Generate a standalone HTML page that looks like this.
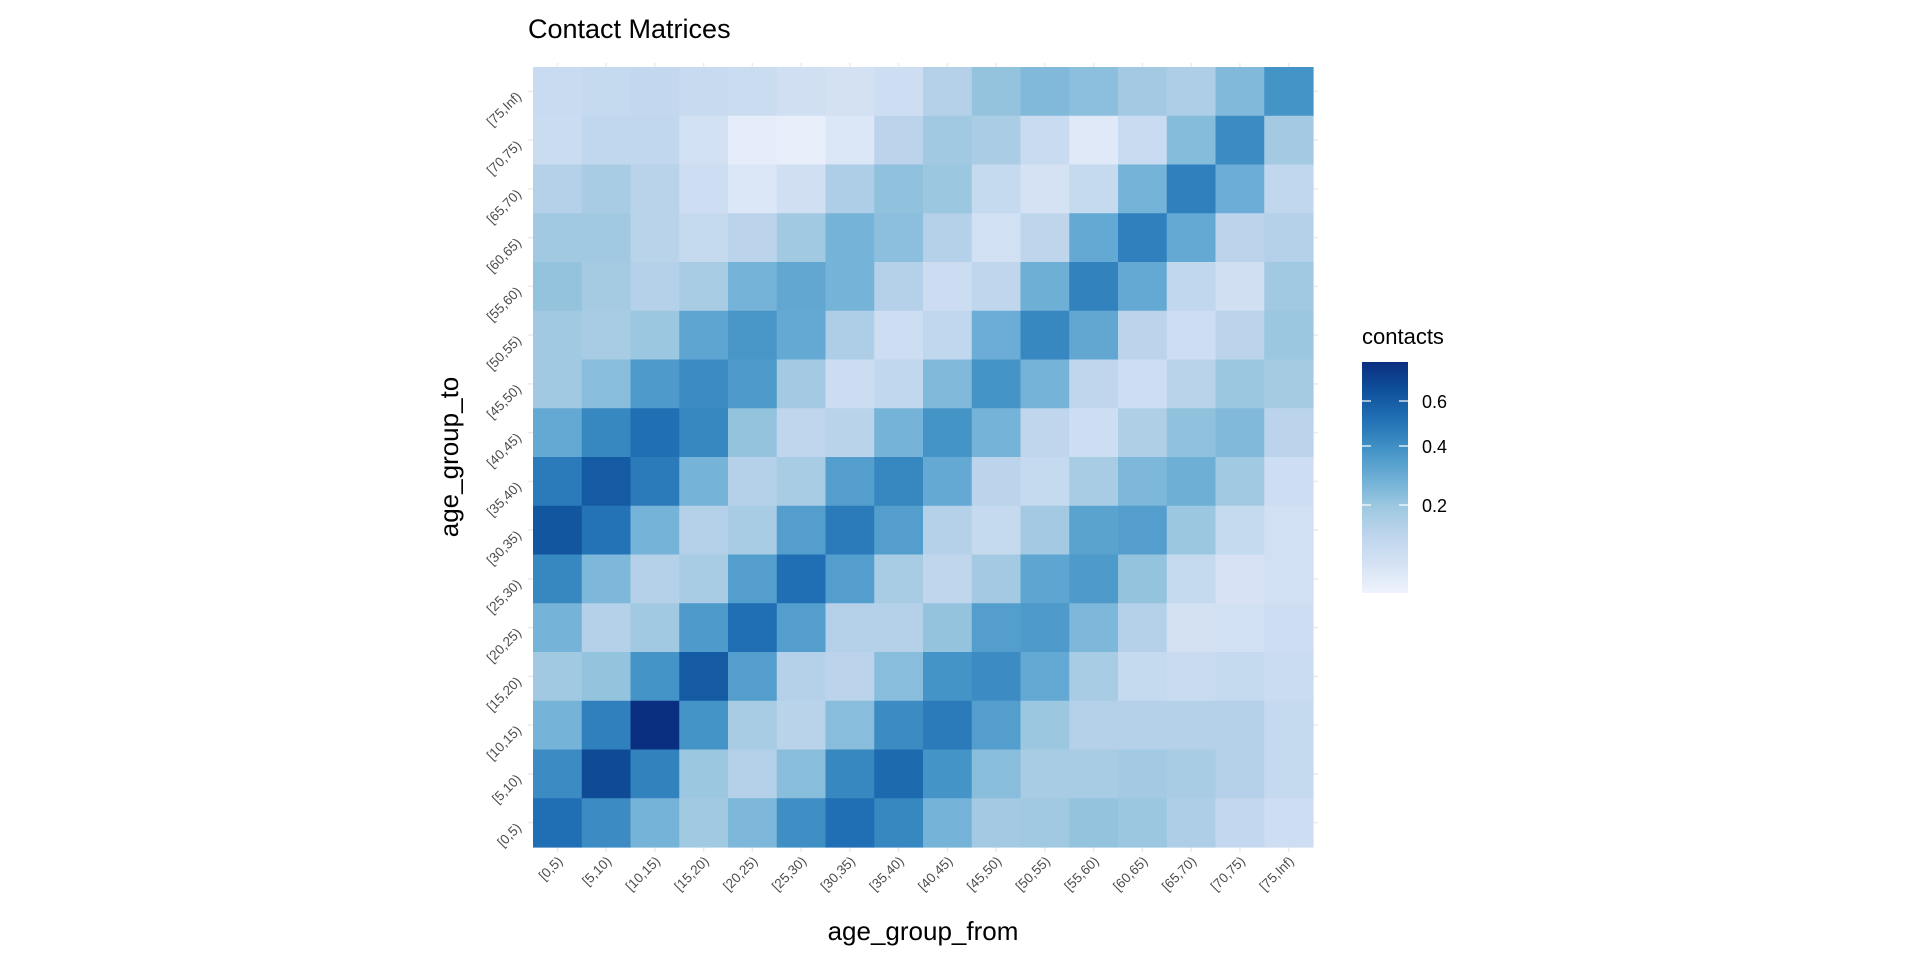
<!DOCTYPE html>
<html><head><meta charset="utf-8"><style>
html,body{margin:0;padding:0;background:#fff;}
svg{display:block;font-family:"Liberation Sans",Arial,sans-serif;}
</style></head><body>
<svg id="s" width="1920" height="960" xmlns="http://www.w3.org/2000/svg">
<defs><linearGradient id="g" x1="0" y1="1" x2="0" y2="0">
<stop offset="0" stop-color="#eef3fd"/><stop offset="0.125" stop-color="#d5e2f4"/>
<stop offset="0.25" stop-color="#bdd5ec"/><stop offset="0.375" stop-color="#9dc8e0"/>
<stop offset="0.5" stop-color="#6caed6"/><stop offset="0.625" stop-color="#4292c6"/>
<stop offset="0.75" stop-color="#2171b5"/><stop offset="0.875" stop-color="#0f519c"/>
<stop offset="1" stop-color="#0b2f80"/></linearGradient></defs>
<text x="528" y="38" font-size="27" fill="#000">Contact Matrices</text>
<g id="grid"></g>
<text transform="translate(458,457) rotate(-90)" text-anchor="middle" font-size="26" fill="#000">age_group_to</text>
<text x="923" y="940" text-anchor="middle" font-size="26" fill="#000">age_group_from</text>
<text x="1362" y="344" font-size="22" fill="#000">contacts</text>
<rect x="1362" y="362" width="46" height="231" fill="url(#g)"/>
<g stroke="#fff" stroke-width="1.2">
<line x1="1362" y1="401" x2="1371" y2="401"/><line x1="1399" y1="401" x2="1408" y2="401"/>
<line x1="1362" y1="446" x2="1371" y2="446"/><line x1="1399" y1="446" x2="1408" y2="446"/>
<line x1="1362" y1="505" x2="1371" y2="505"/><line x1="1399" y1="505" x2="1408" y2="505"/>
</g>
<g font-size="18" fill="#000">
<text x="1422" y="408">0.6</text><text x="1422" y="453">0.4</text><text x="1422" y="512">0.2</text>
</g>
</svg>
<script>
var L=[
[.2,.22,.23,.21,.19,.16,.14,.17,.3,.42,.47,.44,.37,.33,.47,.65],
[.19,.24,.24,.15,.05,.03,.1,.27,.38,.34,.2,.08,.2,.46,.68,.37],
[.3,.35,.28,.17,.1,.16,.33,.43,.4,.22,.13,.22,.5,.73,.53,.24],
[.38,.38,.28,.22,.27,.38,.5,.44,.3,.15,.26,.55,.73,.55,.27,.3],
[.42,.36,.3,.35,.5,.56,.5,.3,.18,.25,.52,.72,.55,.24,.16,.38],
[.38,.35,.4,.57,.64,.55,.33,.17,.24,.53,.7,.56,.27,.17,.27,.4],
[.38,.45,.62,.68,.62,.37,.18,.24,.47,.65,.5,.25,.17,.28,.4,.36],
[.55,.7,.8,.7,.42,.25,.28,.5,.65,.5,.25,.17,.32,.43,.47,.27],
[.75,.88,.75,.5,.3,.35,.6,.7,.55,.27,.22,.35,.48,.52,.38,.17],
[.9,.78,.5,.3,.35,.6,.75,.6,.3,.22,.37,.58,.6,.4,.22,.15],
[.7,.48,.3,.35,.6,.8,.6,.35,.25,.37,.57,.62,.42,.22,.12,.15],
[.5,.3,.38,.62,.8,.6,.3,.3,.42,.6,.62,.48,.3,.14,.15,.17],
[.38,.42,.65,.88,.6,.3,.27,.45,.65,.68,.55,.35,.22,.2,.22,.19],
[.5,.73,1.0,.65,.35,.28,.45,.68,.75,.6,.4,.3,.3,.3,.3,.22],
[.68,.95,.72,.4,.3,.45,.7,.82,.65,.45,.35,.35,.37,.35,.3,.22],
[.8,.68,.5,.38,.48,.67,.8,.7,.5,.37,.38,.42,.4,.33,.23,.17]];
var P=["#eef3fd","#d5e2f4","#bdd5ec","#9dc8e0","#6caed6","#4292c6","#2171b5","#0f519c","#0b2f80"];
function h(c){return [parseInt(c.substr(1,2),16),parseInt(c.substr(3,2),16),parseInt(c.substr(5,2),16)];}
function col(t){t=t<0.99?t*0.95:t;t=Math.max(0,Math.min(1,t))*8;var i=Math.min(7,Math.floor(t)),f=t-i,a=h(P[i]),b=h(P[i+1]);
return "rgb("+[0,1,2].map(function(k){return Math.round(a[k]+(b[k]-a[k])*f)}).join(",")+")";}
var labs=["[0,5)","[5,10)","[10,15)","[15,20)","[20,25)","[25,30)","[30,35)","[35,40)","[40,45)","[45,50)","[50,55)","[55,60)","[60,65)","[65,70)","[70,75)","[75,Inf)"];
var x0=533,y0=67,c=48.75,s="";
for(var i=0;i<16;i++){var cx=x0+c*(i+.5),cy=y0+c*(i+.5);
s+='<line x1="'+cx+'" y1="'+(y0-4)+'" x2="'+cx+'" y2="'+(y0+780+5)+'" stroke="#ebebeb" stroke-width="1.5"/>';
s+='<line x1="'+(x0-5)+'" y1="'+cy+'" x2="'+(x0+780+5)+'" y2="'+cy+'" stroke="#ebebeb" stroke-width="1.5"/>';}
for(var r=0;r<16;r++)for(var j=0;j<16;j++){
s+='<rect x="'+(x0+c*j)+'" y="'+(y0+c*r)+'" width="'+(c+0.6)+'" height="'+(c+0.6)+'" fill="'+col(L[r][j])+'"/>';}
for(var i=0;i<16;i++){var cx=x0+c*(i+.5);
s+='<text transform="translate('+(cx+6)+',862) rotate(-45)" text-anchor="end" font-size="13.5" fill="#4d4d4d">'+labs[i]+'</text>';
var cy=y0+780-c*(i+.5);
s+='<text transform="translate(522,'+(cy+6)+') rotate(-45)" text-anchor="end" font-size="13.5" fill="#4d4d4d">'+labs[i]+'</text>';}
document.getElementById("grid").innerHTML=s;
</script>
</body></html>
